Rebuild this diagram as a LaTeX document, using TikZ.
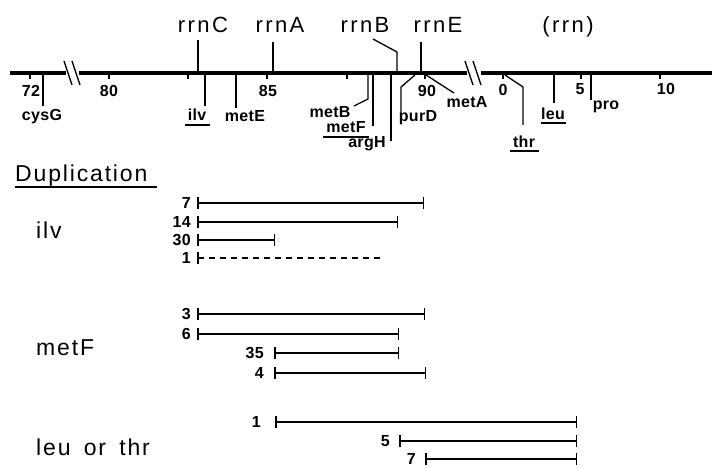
\documentclass[tikz,border=0pt]{standalone}
\usepackage{fontspec}
\setmainfont{Liberation Sans}
\newfontfamily\lettrfont[LetterSpace=11]{Liberation Sans}
\newfontfamily\midfont[LetterSpace=8]{Liberation Sans}
\newfontfamily\labfont[LetterSpace=2]{Liberation Sans}
\usetikzlibrary{arrows.meta}
\begin{document}
\begin{tikzpicture}[x=1pt,y=-1pt,
  chrom/.style={line width=4.2pt},
  chromr/.style={line width=4.8pt},
  gline/.style={line width=1.3pt},
  tickln/.style={line width=1.2pt},
  uline/.style={line width=1.2pt},
  bigtxt/.style={font=\lettrfont\fontsize{22}{22}\selectfont, inner sep=0pt, anchor=base},
  midtxt/.style={font=\midfont\fontsize{23}{23}\selectfont, inner sep=0pt, anchor=base west},
  lab/.style={font=\labfont\bfseries\fontsize{16}{16}\selectfont, inner sep=0pt, anchor=base},
  num/.style={font=\labfont\bfseries\fontsize{16}{16}\selectfont, inner sep=0pt, anchor=east},
  dup/.style={line width=1.5pt, {Bar[width=12pt,line width=1.5pt]}-{Bar[width=12pt,line width=1.5pt]}},
  dupdash/.style={line width=1.3pt, dash pattern=on 6pt off 5pt, {Bar[width=12pt,line width=1.5pt]}-},
]
\useasboundingbox (0,0) rectangle (712,468);

% ---------------- chromosome ----------------
\coordinate (c0) at (10,73);
\coordinate (c1) at (66,73);
\coordinate (c2) at (79,73);
\coordinate (c3) at (467,73);
\coordinate (c4) at (481,73);
\coordinate (c5) at (712,73);
\draw[chrom] (c0) -- (c1);
\draw[chrom] (c2) -- (c3);
\draw[chromr] (c4) -- (c5);
% breaks
\draw[gline] (64,61) -- (72,85);
\draw[gline] (72,61) -- (80,85);
\draw[gline] (465,61) -- (473,85);
\draw[gline] (473,61) -- (481,85);

% scale ticks and numbers
\foreach \nm/\tx in {t72/30, t80/109, t85/267, t90/425, t0/503, t5/581, t10/660, h1/188, h2/347}{
  \coordinate (\nm) at (\tx,73);
  \draw[tickln] (\nm) -- ++(0,6);
}
\node[lab] (n72) at (31,97) {72};
\node[lab] (n80) at (109,97) {80};
\node[lab] (n85) at (268,97) {85};
\node[lab] (n90) at (427,97) {90};
\node[lab] (n0) at (503,96) {0};
\node[lab] (n5) at (580,95) {5};
\node[lab] (n10) at (666,95) {10};

% ---------------- rrn operons (above) ----------------
\node[bigtxt] (rrnC) at (203,33) {rrnC};
\node[bigtxt] (rrnA) at (280,33) {rrnA};
\node[bigtxt] (rrnB) at (365,33) {rrnB};
\node[bigtxt] (rrnE) at (438,33) {rrnE};
\node[bigtxt] (rrn) at (568,33) {(rrn)};
\coordinate (pC) at (198,73);
\coordinate (pA) at (273,73);
\coordinate (pB) at (397,73);
\coordinate (pE) at (421,73);
\draw[gline] (pC) -- (198,40);
\draw[gline] (pA) -- (273,42);
\draw[gline] (pB) -- (397,52) -- (373,39);
\draw[gline] (pE) -- (421,42);

% ---------------- genes (below) ----------------
\node[lab] (cysG) at (42,121) {cysG};
\draw[gline] (43,73) -- (43,106);

\node[lab] (ilvg) at (197,121) {ilv};
\draw[gline] (205,73) -- (205,106);
\draw[uline] (185,125) -- (210,125);

\node[lab] (metE) at (245,122) {metE};
\draw[gline] (236,73) -- (236,108);

\node[lab] (metB) at (330,118) {metB};
\draw[gline] (368,73) -- (368,99) -- (354,106);

\node[lab] (metFg) at (346,133) {metF};
\draw[gline] (373,73) -- (373,126);
\draw[uline] (323,137) -- (369,137);

\node[lab] (argH) at (367,148) {argH};
\draw[gline] (391,73) -- (391,141);

\node[lab] (purD) at (418,122) {purD};
\draw[gline] (415,75) -- (401,87) -- (401,113);

\node[lab] (metA) at (467,108) {metA};
\draw[gline] (426,75) -- (454,93);

\node[lab] (thr) at (524,147) {thr};
\draw[gline] (505,75) -- (523,87) -- (523,125);
\draw[uline] (510,151) -- (539,151);

\node[lab] (leu) at (553,120) {leu};
\draw[gline] (554,73) -- (554,103);
\draw[uline] (541,123) -- (566,123);

\node[lab] (pro) at (606,110) {pro};
\draw[gline] (591,73) -- (591,100);

% ---------------- duplications ----------------
\node[midtxt] (dupl) at (15,181) {Duplication};
\draw[uline] (15,187) -- (157,187);

\node[midtxt] (ilvt) at (36,238) {ilv};
\node[midtxt] (metFt) at (36,355) {metF};
\node[midtxt] (leut) at (36,455) {leu\hspace{5pt} or\hspace{5pt} thr};

% ilv
\draw[dup] (197,203) -- (424,203);
\draw[dup] (197,222) -- (398,222);
\draw[dup] (197,240) -- (275,240);
\draw[dupdash] (197,258) -- (384,258);
\node[num] (i7) at (191,203) {7};
\node[num] (i14) at (191,222) {14};
\node[num] (i30) at (191,240) {30};
\node[num] (i1) at (191,258) {1};

% metF
\draw[dup] (197,314) -- (425,314);
\draw[dup] (197,334) -- (399,334);
\draw[dup] (274,353) -- (399,353);
\draw[dup] (274,373) -- (426,373);
\node[num] (m3) at (191,314) {3};
\node[num] (m6) at (191,334) {6};
\node[num] (m35) at (264,353) {35};
\node[num] (m4) at (264,373) {4};

% leu or thr
\draw[dup] (275,422) -- (577,422);
\draw[dup] (399,441) -- (577,441);
\draw[dup] (425,459) -- (577,459);
\node[num] (l1) at (261,422) {1};
\node[num] (l5) at (390,441) {5};
\node[num] (l7) at (416,459) {7};
\end{tikzpicture}
\end{document}
